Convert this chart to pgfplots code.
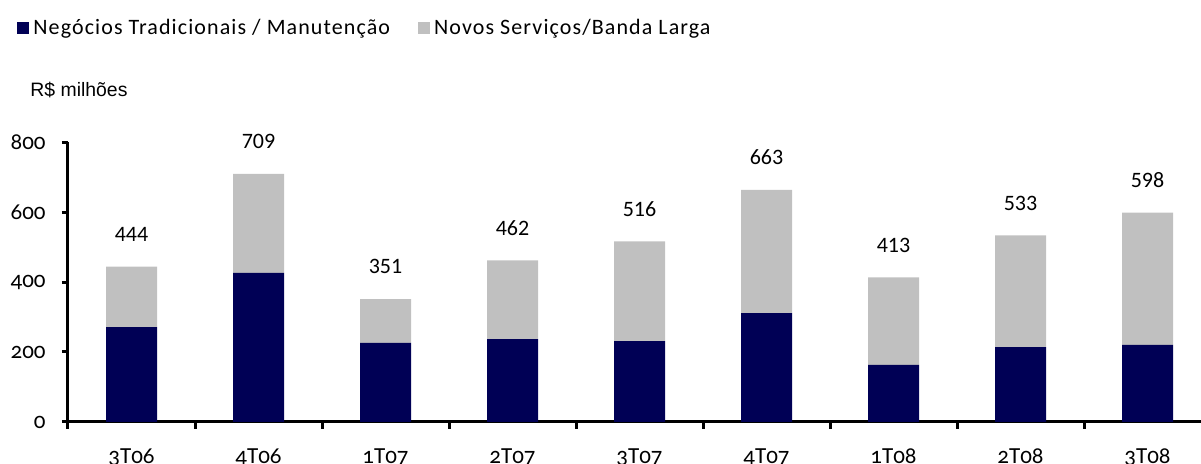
\documentclass[border=0pt]{standalone}
\usepackage{fontspec}
\setmainfont{Carlito}
\newfontfamily\tickfont{Carlito}[Numbers=OldStyle]
\newfontfamily\legfont{Carlito}[LetterSpace=5]
\newfontfamily\arialfont{Liberation Sans}
\usepackage{pgfplots}
\pgfplotsset{compat=1.18}
\definecolor{navy}{RGB}{0,0,85}
\definecolor{lgray}{RGB}{192,192,192}
\pgfplotsset{common/.style={
  at={(34pt,21pt)}, anchor=south west,
  scale only axis, width=566.5pt, height=140pt,
  xmin=-0.5, xmax=8.421, ymin=0, ymax=800, clip=false}}
\begin{document}
\begin{tikzpicture}
\begin{axis}[
  common,
  ybar stacked, bar width=25.5pt,
  axis x line=bottom, axis y line=left,
  axis line style={-, line width=1.5pt},
  tick align=outside,
  xtick={0,...,8},
  xticklabels={3T06,4T06,1T07,2T07,3T07,4T07,1T08,2T08,3T08},
  x tick style={draw=none},
  minor xtick={-0.5,0.5,...,7.5},
  minor x tick style={draw=black, line width=1.5pt},
  minor tick length=3.5pt,
  ytick={0,200,...,800},
  y tick style={black, line width=1.5pt},
  major tick length=3pt,
  /pgf/number format/assume math mode=true,
  tick label style={font=\tickfont\fontsize{11.5}{13}\selectfont},
  xticklabel style={anchor=north, inner sep=0pt, yshift=-10pt},
  yticklabel style={anchor=east, inner sep=0pt, xshift=-8pt},
  legend columns=2,
  legend style={draw=none, at={(-0.045,1.407)}, anchor=west, inner sep=0pt,
    font=\legfont\fontsize{11}{12}\selectfont,
    /tikz/every even column/.append style={column sep=12pt}},
  legend image code/.code={\fill[#1,draw=none] (0pt,-3pt) rectangle (6pt,3pt);},
]
\addplot[fill=navy, draw=none] coordinates {(0,271) (1,426) (2,226) (3,237) (4,231) (5,311) (6,163) (7,214) (8,220)};
\addlegendentry{Negócios Tradicionais / Manutenção}
\addplot[fill=lgray, draw=none]
  coordinates {(0,173) (1,283) (2,125) (3,225) (4,285) (5,352) (6,250) (7,319) (8,378)};
\addlegendentry{Novos Serviços/Banda Larga}
\node[anchor=west, inner sep=0pt, font=\arialfont\fontsize{9.7}{11}\selectfont] at (rel axis cs:-0.0335,1.186) {R\$ milhões};
\end{axis}
\begin{axis}[common, hide axis]
\addplot[draw=none, mark=none, nodes near coords, point meta=explicit symbolic,
  nodes near coords style={anchor=south, inner sep=0pt, yshift=12.3pt, text=black, font=\fontsize{11}{13}\selectfont}]
  coordinates {(0,444)[444] (1,709)[709] (2,351)[351] (3,462)[462] (4,516)[516] (5,663)[663] (6,413)[413] (7,533)[533] (8,598)[598]};
\end{axis}
\pgfresetboundingbox
\path[use as bounding box] (0,0) rectangle (600.5pt,232pt);
\end{tikzpicture}
\end{document}
